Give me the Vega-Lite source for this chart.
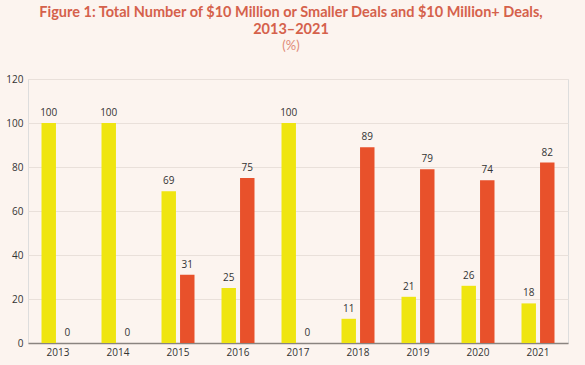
{
  "$schema": "https://vega.github.io/schema/vega-lite/v6.json",
  "width": 540,
  "height": 264,
  "autosize": {"type": "none"},
  "padding": {"left": 28, "top": 79, "right": 17, "bottom": 22},
  "background": "#fcf4ef",
  "title": {
    "text": ["Figure 1: Total Number of $10 Million or Smaller Deals and $10 Million+ Deals,", "2013–2021"],
    "subtitle": "(%)",
    "font": "Lato",
    "fontSize": 14.5,
    "fontWeight": "bold",
    "color": "#d5614b",
    "lineHeight": 17,
    "subtitleFont": "Lato",
    "subtitleFontSize": 13,
    "subtitleColor": "#e08a78",
    "subtitlePadding": 3,
    "anchor": "middle",
    "frame": "group",
    "dx": -7,
    "offset": 20
  },
  "data": {
    "values": [
      {"year": "2013", "series": "$10 Million or Smaller", "value": 100},
      {"year": "2013", "series": "$10 Million+", "value": 0},
      {"year": "2014", "series": "$10 Million or Smaller", "value": 100},
      {"year": "2014", "series": "$10 Million+", "value": 0},
      {"year": "2015", "series": "$10 Million or Smaller", "value": 69},
      {"year": "2015", "series": "$10 Million+", "value": 31},
      {"year": "2016", "series": "$10 Million or Smaller", "value": 25},
      {"year": "2016", "series": "$10 Million+", "value": 75},
      {"year": "2017", "series": "$10 Million or Smaller", "value": 100},
      {"year": "2017", "series": "$10 Million+", "value": 0},
      {"year": "2018", "series": "$10 Million or Smaller", "value": 11},
      {"year": "2018", "series": "$10 Million+", "value": 89},
      {"year": "2019", "series": "$10 Million or Smaller", "value": 21},
      {"year": "2019", "series": "$10 Million+", "value": 79},
      {"year": "2020", "series": "$10 Million or Smaller", "value": 26},
      {"year": "2020", "series": "$10 Million+", "value": 74},
      {"year": "2021", "series": "$10 Million or Smaller", "value": 18},
      {"year": "2021", "series": "$10 Million+", "value": 82}
    ]
  },
  "encoding": {
    "x": {
      "field": "year",
      "type": "nominal",
      "scale": {"paddingInner": 0.45, "paddingOuter": 0.225},
      "axis": {
        "title": null,
        "labelAngle": 0,
        "labelFont": "Open Sans",
        "labelFontSize": 10,
        "labelColor": "#333333",
        "ticks": false,
        "labelPadding": 4,
        "domainColor": "#8a8480",
        "domainWidth": 1.5
      }
    },
    "xOffset": {
      "field": "series",
      "type": "nominal",
      "sort": ["$10 Million or Smaller", "$10 Million+"],
      "scale": {"paddingInner": 0.22}
    },
    "y": {
      "field": "value",
      "type": "quantitative",
      "scale": {"domain": [0, 120]},
      "axis": {
        "title": null,
        "values": [0, 20, 40, 60, 80, 100, 120],
        "labelFont": "Open Sans",
        "labelFontSize": 10,
        "labelColor": "#333333",
        "ticks": false,
        "domain": false,
        "labelPadding": 5,
        "gridColor": "#e9e0da",
        "gridWidth": 1
      }
    }
  },
  "layer": [
    {
      "mark": {"type": "bar"},
      "encoding": {
        "color": {
          "field": "series",
          "type": "nominal",
          "sort": ["$10 Million or Smaller", "$10 Million+"],
          "scale": {"range": ["#efe510", "#e8512b"]},
          "legend": null
        }
      }
    },
    {
      "mark": {"type": "text", "baseline": "bottom", "dy": -5, "font": "Open Sans", "fontSize": 10, "color": "#333333"},
      "encoding": {
        "text": {"field": "value", "type": "quantitative"}
      }
    }
  ]
}
